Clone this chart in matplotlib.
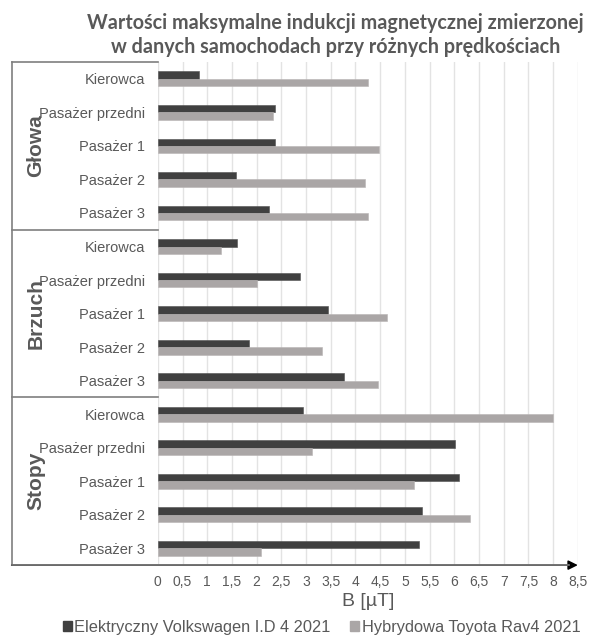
import matplotlib
matplotlib.use("Agg")
import matplotlib.pyplot as plt
from matplotlib.patches import Patch
from matplotlib.ticker import FuncFormatter
import numpy as np

# wartości odczytane dla każdej pozycji pomiaru [uT]
groups = ["Głowa", "Brzuch", "Stopy"]
seats = ["Kierowca", "Pasażer przedni", "Pasażer 1", "Pasażer 2", "Pasażer 3"]

vw_glowa = [0.83, 2.37, 2.37, 1.58, 2.25]
vw_brzuch = [1.60, 2.87, 3.44, 1.84, 3.76]
vw_stopy = [2.93, 6.01, 6.09, 5.34, 5.28]

toy_glowa = [4.25, 2.33, 4.47, 4.19, 4.25]
toy_brzuch = [1.27, 2.00, 4.64, 3.32, 4.45]
toy_stopy = [8.00, 3.12, 5.18, 6.32, 2.08]

vw_label = "Elektryczny Volkswagen I.D 4 2021"
toy_label = "Hybrydowa Toyota Rav4 2021"

DARK = "#404040"
LIGHT = "#aaa6a6"
TXT = "#595959"

plt.rcParams["font.family"] = ["Liberation Sans", "DejaVu Sans"]

vw = vw_glowa + vw_brzuch + vw_stopy
toy = toy_glowa + toy_brzuch + toy_stopy
labels = seats * len(groups)
y = np.arange(len(labels))

fig = plt.figure(figsize=(5.89, 6.4), dpi=100)
ax = fig.add_axes([0.268, 0.117, 0.713, 0.786])

h = 0.22
ax.barh(y - h / 2, vw, h, color=DARK, edgecolor="#505050", linewidth=0.4, zorder=3)
ax.barh(y + h / 2, toy, h, color=LIGHT, edgecolor="#b8b4b4", linewidth=0.4, zorder=3)

ax.set_xlim(0, 8.5)
ax.set_ylim(len(labels) - 0.5, -0.5)
ax.set_xticks(np.arange(0, 8.51, 0.5))
ax.xaxis.set_major_formatter(FuncFormatter(lambda v, p: f"{v:g}".replace(".", ",")))
ax.grid(True, axis="x", color="#e3e3e3", linewidth=1, zorder=0)
ax.tick_params(axis="x", length=0, pad=7, labelsize=10, labelcolor=TXT)
ax.set_yticks(y)
ax.set_yticklabels(labels, fontsize=10.5, color=TXT)
ax.tick_params(axis="y", length=0, pad=9)
for s in ax.spines.values():
    s.set_visible(False)

ax.set_xlabel("B [µT]", fontsize=14, color=TXT, labelpad=3)

# ramka z grupami po lewej
trans = ax.get_yaxis_transform()
x0 = -0.348
line_kw = dict(color="#7f7f7f", linewidth=1.2, transform=trans, clip_on=False)
ax.plot([x0, x0], [-0.5, len(labels) - 0.5], **line_kw)
for b in [-0.5, 4.5, 9.5]:
    ax.plot([x0, 0], [b, b], **line_kw)
ax.annotate("", xy=(1.0, len(labels) - 0.5), xytext=(x0, len(labels) - 0.5),
            xycoords=trans, textcoords=trans,
            arrowprops=dict(arrowstyle="-|>", color="#000000", lw=1.2,
                            mutation_scale=14, shrinkA=0, shrinkB=0))
ax.plot([x0, 0.98], [len(labels) - 0.5] * 2, color="#7f7f7f", linewidth=1.2,
        transform=trans, clip_on=False, zorder=4)

for i, g in enumerate(groups):
    ax.text(-0.29, i * 5 + 2, g, transform=trans, rotation=90, ha="center",
            va="center", fontsize=15, fontweight="bold", color=TXT)

fig.text(0.57, 0.98, "Wartości maksymalne indukcji magnetycznej zmierzonej\n"
         "w danych samochodach przy różnych prędkościach",
         ha="center", va="top", fontsize=14.2, fontweight="bold", color=TXT,
         family=["Lato", "DejaVu Sans"], linespacing=1.25)

handles = [Patch(color=DARK, label=vw_label), Patch(color=LIGHT, label=toy_label)]
fig.legend(handles=handles, loc="lower center", bbox_to_anchor=(0.546, -0.015), ncol=2,
           frameon=False, fontsize=11.8, handlelength=0.55, handleheight=0.55,
           handletextpad=0.15, columnspacing=1.2, labelcolor=TXT)

fig.savefig("out.png", dpi=100)
